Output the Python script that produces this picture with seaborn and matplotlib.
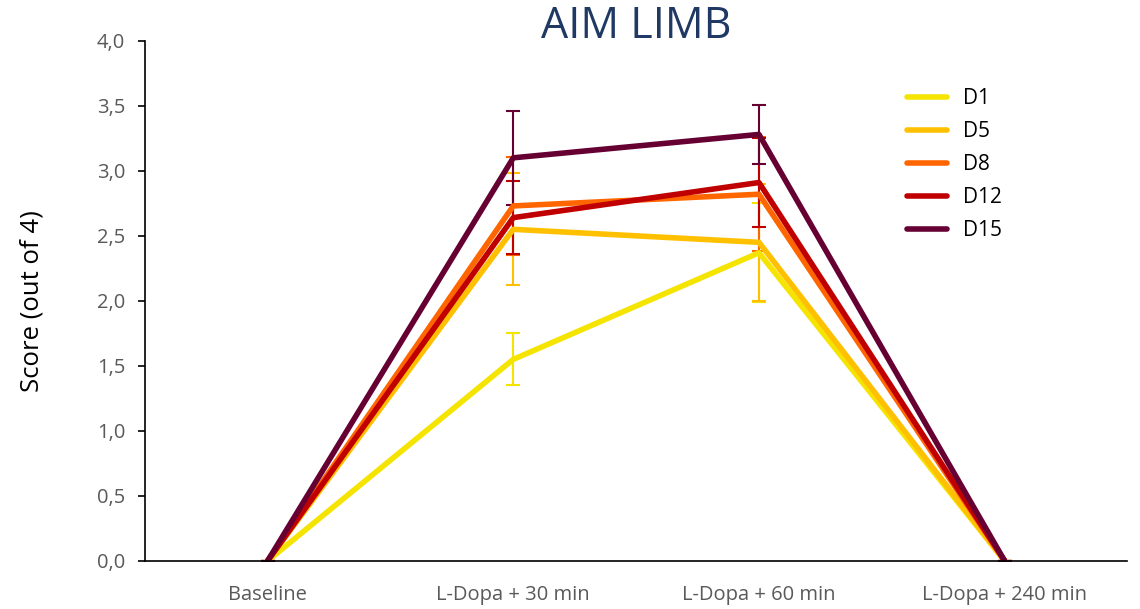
import matplotlib
matplotlib.use("Agg")
import matplotlib.pyplot as plt
import seaborn as sns
import pandas as pd

timepoints = ["Baseline", "L-Dopa + 30 min", "L-Dopa + 60 min", "L-Dopa + 240 min"]
days = ["D1", "D5", "D8", "D12", "D15"]
d1 = [0.0, 1.55, 2.37, 0.0]
d5 = [0.0, 2.55, 2.45, 0.0]
d8 = [0.0, 2.73, 2.82, 0.0]
d12 = [0.0, 2.64, 2.91, 0.0]
d15 = [0.0, 3.10, 3.28, 0.0]
e1 = [0.0, 0.20, 0.38, 0.0]
e5 = [0.0, 0.43, 0.45, 0.0]
e8 = [0.0, 0.38, 0.44, 0.0]
e12 = [0.0, 0.28, 0.34, 0.0]
e15 = [0.0, 0.36, 0.23, 0.0]
colors = ["#F5E400", "#FFC000", "#FF6600", "#C00000", "#660033"]

values = [d1, d5, d8, d12, d15]
errors = [e1, e5, e8, e12, e15]

rows = []
for day, vals, errs in zip(days, values, errors):
    for i, (t, v, e) in enumerate(zip(timepoints, vals, errs)):
        rows.append({"Day": day, "Time": t, "idx": i, "Score": v, "err": e})
df = pd.DataFrame(rows)

sns.set_theme(style="white")
plt.rcParams["font.family"] = ["Open Sans", "DejaVu Sans"]

fig = plt.figure(figsize=(11.4, 6.09), dpi=100)
ax = fig.add_axes([0.127, 0.079, 0.862, 0.854])

for day, c in zip(days, colors):
    sub = df[df["Day"] == day]
    ax.errorbar(sub["idx"], sub["Score"], yerr=sub["err"], fmt="none",
                ecolor=c, elinewidth=1.5, capsize=5, capthick=1.5, zorder=1)

sns.lineplot(data=df, x="idx", y="Score", hue="Day", hue_order=days,
             palette=colors, linewidth=4, ax=ax, sort=False, zorder=2)

ax.set_xlim(-0.5, 3.5)
ax.set_ylim(0, 4.0)
ax.set_xticks(range(len(timepoints)))
ax.set_xticklabels(timepoints)
yt = [0, 0.5, 1, 1.5, 2, 2.5, 3, 3.5, 4]
ax.set_yticks(yt)
ax.set_yticklabels([f"{v:.1f}".replace(".", ",") for v in yt])
ax.tick_params(axis="both", labelsize=14.5, labelcolor="#595959")
ax.tick_params(axis="y", left=True, length=5, width=1.2, color="black", pad=9)
ax.tick_params(axis="x", bottom=False, pad=11)
for s in ["top", "right"]:
    ax.spines[s].set_visible(False)
for s in ["left", "bottom"]:
    ax.spines[s].set_color("black")
    ax.spines[s].set_linewidth(1.2)

ax.set_xlabel("")
ax.set_ylabel("Score (out of 4)", fontsize=18.5, color="black", labelpad=38)
ax.set_title("AIM LIMB", fontsize=31, color="#1F3864", pad=0, y=1.005)

leg = ax.legend(loc="upper left", bbox_to_anchor=(0.757, 0.945), frameon=False,
                fontsize=15, handlelength=1.9, handletextpad=0.75, labelspacing=0.58)
for line in leg.get_lines():
    line.set_linewidth(4)
for t in leg.get_texts():
    t.set_color("black")

fig.savefig("out.png", dpi=100)
